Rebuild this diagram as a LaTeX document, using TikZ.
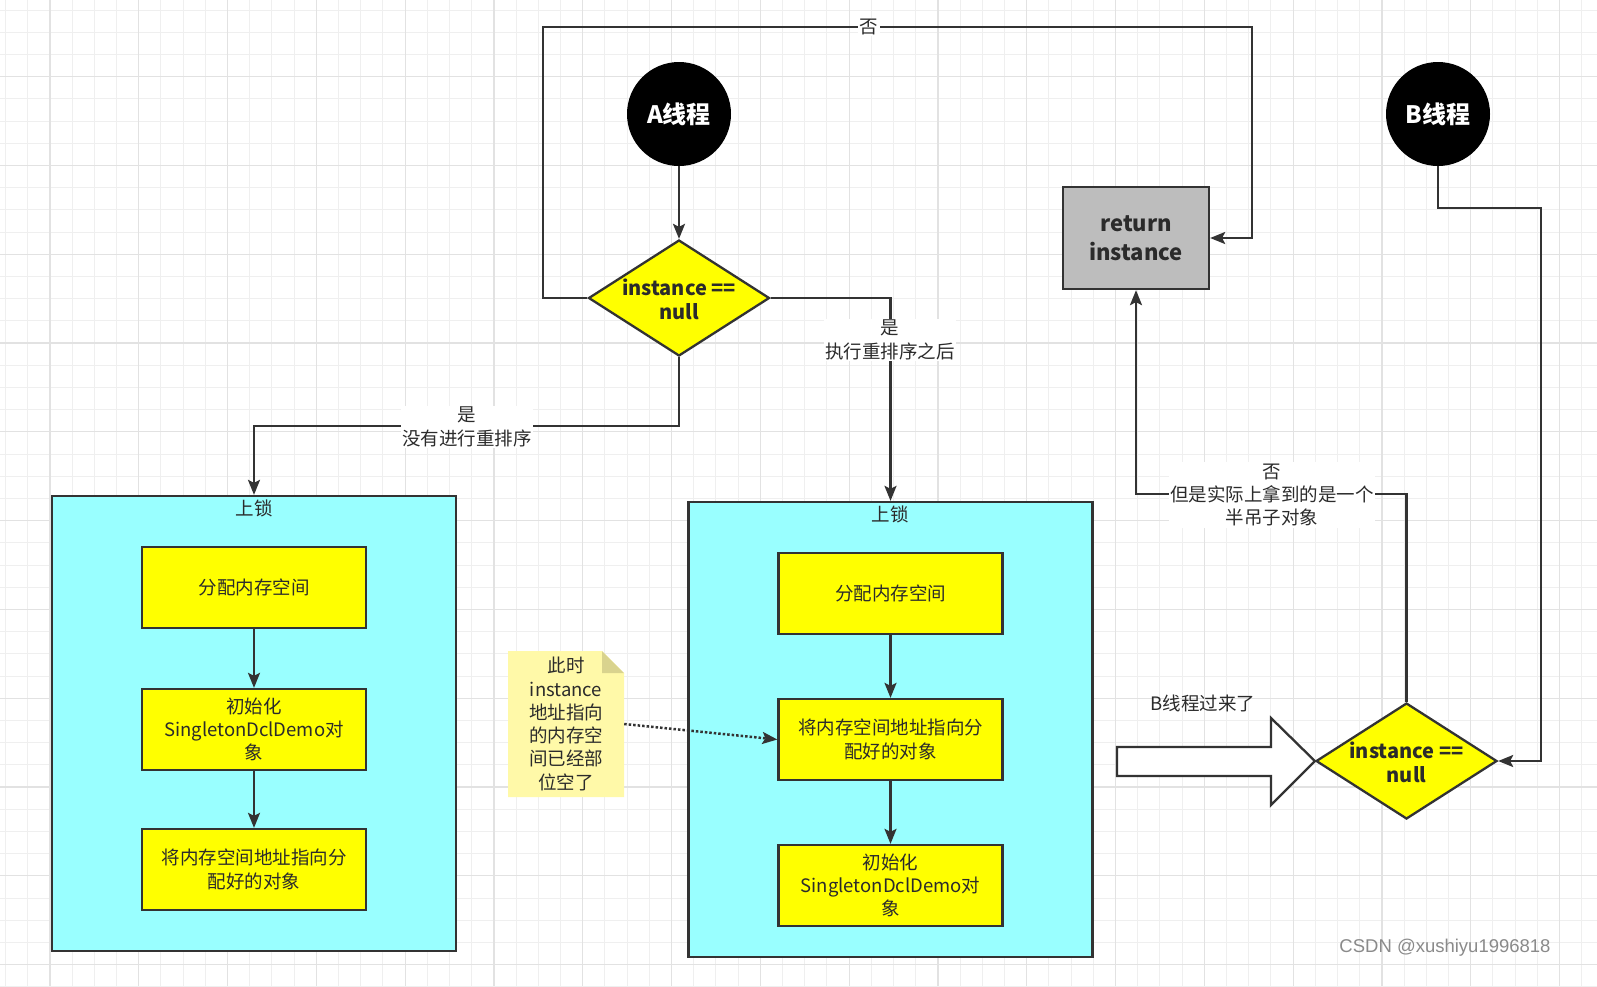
\documentclass[tikz,border=0pt]{standalone}
\usepackage{fontspec}
\setmainfont{Noto Sans CJK SC}
\newfontfamily\wmfont{Liberation Sans}
\usetikzlibrary{shapes.geometric,arrows.meta}
\definecolor{ln}{HTML}{333333}
\definecolor{txt}{HTML}{2B2B2B}
\definecolor{cyanbox}{HTML}{99FFFF}
\definecolor{ybox}{HTML}{FFFF00}
\definecolor{retgray}{HTML}{BDBDBD}
\definecolor{notefill}{HTML}{FFF9A8}
\definecolor{notefold}{HTML}{D9D38E}
\definecolor{gridmin}{HTML}{EFEFEF}
\definecolor{gridmaj}{HTML}{E2E2E2}
\definecolor{wmgray}{HTML}{8A8A8A}
\begin{document}
\begin{tikzpicture}[x=1pt,y=-1pt,
  edge/.style={draw=ln, line width=2.3pt, -{Stealth[length=15pt,width=12pt,inset=3pt]}},
  thread/.style={circle, fill=black, minimum size=104pt, inner sep=0pt, text=white, font=\fontsize{24}{28}\selectfont\bfseries},
  decision/.style={diamond, draw=ln, line width=2.3pt, fill=ybox, minimum width=181pt, minimum height=116pt, inner sep=0pt},
  dtext/.style={align=center, text=txt, inner sep=0pt, font=\fontsize{20}{24}\selectfont\bfseries},
  lockbox/.style={rectangle, draw=ln, line width=2.3pt, fill=cyanbox, minimum width=404pt, minimum height=455pt},
  stepbox/.style={rectangle, draw=ln, line width=2.3pt, fill=ybox, minimum width=224pt, minimum height=81pt, align=center, text=txt, inner sep=2pt, font=\fontsize{18.5}{23.3}\selectfont},
  retbox/.style={rectangle, draw=ln, line width=2.3pt, fill=retgray, minimum width=146pt, minimum height=102pt, align=center, text=txt, font=\fontsize{22}{29}\selectfont\bfseries},
  lbl/.style={fill=white, align=center, text=txt, inner sep=1.5pt, font=\fontsize{18.5}{23.3}\selectfont},
  plain/.style={align=center, text=txt, inner sep=1pt, font=\fontsize{18.5}{23.3}\selectfont}
]
\useasboundingbox (0,0) rectangle (1597,986);
\fill[white] (0,0) rectangle (1597,986);
% grid
\foreach \i in {0,...,71} \draw[gridmin, line width=1pt] ({5.5+22.2*\i},0) -- ++(0,986);
\foreach \j in {0,...,44} \draw[gridmin, line width=1pt] (0,{10+22.2*\j}) -- ++(1597,0);
\foreach \i in {0,...,17} \draw[gridmaj, line width=1.2pt] ({49.9+88.8*\i},0) -- ++(0,986);
\foreach \j in {0,...,10} \draw[gridmaj, line width=1.2pt] (0,{76.6+88.8*\j}) -- ++(1597,0);

% lock boxes
\node[lockbox] (L) at (254,723.5) {};
\node[lockbox] (M) at (890.5,729.5) {};
\node[plain] (Lt) at (254,508) {上锁};
\node[plain] (Mt) at (890,514) {上锁};

% steps
\node[stepbox] (L1) at (254,587.5) {分配内存空间};
\node[stepbox] (L2) at (254,729.5) {初始化\\SingletonDclDemo对\\象};
\node[stepbox] (L3) at (254,869.5) {将内存空间地址指向分\\配好的对象};
\node[stepbox] (M1) at (890.5,593.5) {分配内存空间};
\node[stepbox] (M2) at (890.5,739.5) {将内存空间地址指向分\\配好的对象};
\node[stepbox] (M3) at (890.5,885.5) {初始化\\SingletonDclDemo对\\象};

% threads, decisions, return
\node[thread] (A) at (679,114) {A线程};
\node[thread] (B) at (1438,114) {B线程};
\node[decision] (dA) at (679,298) {};
\node[dtext] (dAt) at (679,299) {instance ==\\null};
\node[decision] (Bd) at (1406.5,761) {};
\node[dtext] (Bdt) at (1406.5,762) {instance ==\\null};
\node[retbox] (ret) at (1136,238) {return\\instance};

% note
\fill[notefill] (508,651) -- (602,651) -- (624,673) -- (624,797) -- (508,797) -- cycle;
\fill[notefold] (602,651) -- (602,673) -- (624,673) -- cycle;
\node[plain, minimum width=116pt, minimum height=146pt] (note) at (566,724) {此时\\instance\\地址指向\\的内存空\\间已经部\\位空了};

% block arrow
\draw[ln, line width=2.3pt, fill=white, line join=miter] (1117,747) -- (1271,747) -- (1271,718) -- (Bd.west) -- (1271,805) -- (1271,776) -- (1117,776) -- cycle;
\node[plain] (bcome) at (1203,703) {B线程过来了};

% coordinates
\coordinate (c1) at (543,27);
\coordinate (c2) at (1252,27);
\coordinate (c3) at (679,426);
\coordinate (c4) at (1541,208);
\coordinate (c5) at (1406.5,494);

% edges
\draw[edge] (A) -- (dA);
\draw[edge] (dA.west) -| (c1) -- (c2) |- (ret.east);
\draw[edge] (dA.south) -- (c3) -| (L.north);
\draw[edge] (dA.east) -| (M.north);
\draw[edge] (B.south) |- (c4) |- (Bd.east);
\draw[edge] (Bd.north) -- (c5) -| (ret.south);
\draw[edge] (L1) -- (L2);
\draw[edge] (L2) -- (L3);
\draw[edge] (M1) -- (M2);
\draw[edge] (M2) -- (M3);
\draw[draw=ln, line width=2.5pt, dotted, -{Stealth[length=15pt,width=12pt,inset=3pt]}] (note.east) -- (M2.west);

% edge labels
\node[lbl] (no1) at (869,27) {否};
\node[lbl] (yes1) at (467,427) {是\\没有进行重排序};
\node[lbl] (yes2) at (890,340) {是\\执行重排序之后};
\node[lbl] (no2) at (1272,495) {否\\但是实际上拿到的是一个\\半吊子对象};

% watermark
\node[text=wmgray, inner sep=0pt, font=\wmfont\fontsize{18.5}{22}\selectfont] (wm) at (1445,948) {CSDN @xushiyu1996818};
\end{tikzpicture}
\end{document}
